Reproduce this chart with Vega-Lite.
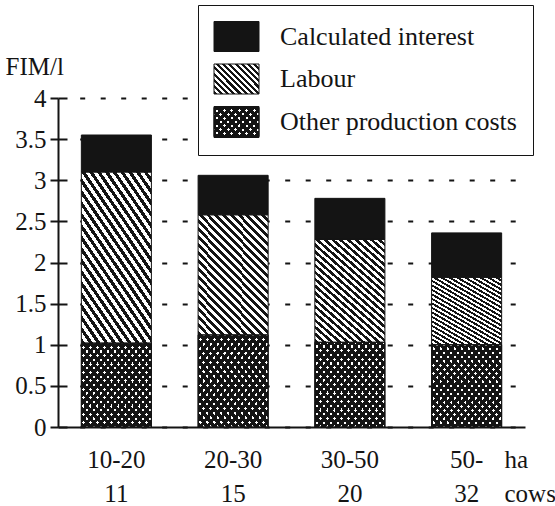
{
"$schema": "https://vega.github.io/schema/vega-lite/v6.json",
"width": 467,
"height": 329,
"autosize": "none",
"padding": {"left": 58, "top": 98, "right": 30, "bottom": 79},
"background": "white",
"config": {"view": {"stroke": null}, "font": "Liberation Serif, Times New Roman, Times, Nimbus Roman, DejaVu Serif, serif",
 "axis": {"labelFont": "Liberation Serif, Times New Roman, Times, Nimbus Roman, DejaVu Serif, serif", "titleFont": "Liberation Serif, Times New Roman, Times, Nimbus Roman, DejaVu Serif, serif"},
 "legend": {"labelFont": "Liberation Serif, Times New Roman, Times, Nimbus Roman, DejaVu Serif, serif", "titleFont": "Liberation Serif, Times New Roman, Times, Nimbus Roman, DejaVu Serif, serif"}},
"params": [
{"name": "gLabBar", "value": {"gradient": "linear", "x1": 0, "y1": 1, "x2": 0.706, "y2": -0.176, "stops": [
 {"offset": 0, "color": "#141414"}, {"offset": 0.0208, "color": "#141414"}, {"offset": 0.0208, "color": "#fff"}, {"offset": 0.0417, "color": "#fff"},
 {"offset": 0.0417, "color": "#141414"}, {"offset": 0.0625, "color": "#141414"}, {"offset": 0.0625, "color": "#fff"}, {"offset": 0.0833, "color": "#fff"},
 {"offset": 0.0833, "color": "#141414"}, {"offset": 0.1042, "color": "#141414"}, {"offset": 0.1042, "color": "#fff"}, {"offset": 0.125, "color": "#fff"},
 {"offset": 0.125, "color": "#141414"}, {"offset": 0.1458, "color": "#141414"}, {"offset": 0.1458, "color": "#fff"}, {"offset": 0.1667, "color": "#fff"},
 {"offset": 0.1667, "color": "#141414"}, {"offset": 0.1875, "color": "#141414"}, {"offset": 0.1875, "color": "#fff"}, {"offset": 0.2083, "color": "#fff"},
 {"offset": 0.2083, "color": "#141414"}, {"offset": 0.2292, "color": "#141414"}, {"offset": 0.2292, "color": "#fff"}, {"offset": 0.25, "color": "#fff"},
 {"offset": 0.25, "color": "#141414"}, {"offset": 0.2708, "color": "#141414"}, {"offset": 0.2708, "color": "#fff"}, {"offset": 0.2917, "color": "#fff"},
 {"offset": 0.2917, "color": "#141414"}, {"offset": 0.3125, "color": "#141414"}, {"offset": 0.3125, "color": "#fff"}, {"offset": 0.3333, "color": "#fff"},
 {"offset": 0.3333, "color": "#141414"}, {"offset": 0.3542, "color": "#141414"}, {"offset": 0.3542, "color": "#fff"}, {"offset": 0.375, "color": "#fff"},
 {"offset": 0.375, "color": "#141414"}, {"offset": 0.3958, "color": "#141414"}, {"offset": 0.3958, "color": "#fff"}, {"offset": 0.4167, "color": "#fff"},
 {"offset": 0.4167, "color": "#141414"}, {"offset": 0.4375, "color": "#141414"}, {"offset": 0.4375, "color": "#fff"}, {"offset": 0.4583, "color": "#fff"},
 {"offset": 0.4583, "color": "#141414"}, {"offset": 0.4792, "color": "#141414"}, {"offset": 0.4792, "color": "#fff"}, {"offset": 0.5, "color": "#fff"},
 {"offset": 0.5, "color": "#141414"}, {"offset": 0.5208, "color": "#141414"}, {"offset": 0.5208, "color": "#fff"}, {"offset": 0.5417, "color": "#fff"},
 {"offset": 0.5417, "color": "#141414"}, {"offset": 0.5625, "color": "#141414"}, {"offset": 0.5625, "color": "#fff"}, {"offset": 0.5833, "color": "#fff"},
 {"offset": 0.5833, "color": "#141414"}, {"offset": 0.6042, "color": "#141414"}, {"offset": 0.6042, "color": "#fff"}, {"offset": 0.625, "color": "#fff"},
 {"offset": 0.625, "color": "#141414"}, {"offset": 0.6458, "color": "#141414"}, {"offset": 0.6458, "color": "#fff"}, {"offset": 0.6667, "color": "#fff"},
 {"offset": 0.6667, "color": "#141414"}, {"offset": 0.6875, "color": "#141414"}, {"offset": 0.6875, "color": "#fff"}, {"offset": 0.7083, "color": "#fff"},
 {"offset": 0.7083, "color": "#141414"}, {"offset": 0.7292, "color": "#141414"}, {"offset": 0.7292, "color": "#fff"}, {"offset": 0.75, "color": "#fff"},
 {"offset": 0.75, "color": "#141414"}, {"offset": 0.7708, "color": "#141414"}, {"offset": 0.7708, "color": "#fff"}, {"offset": 0.7917, "color": "#fff"},
 {"offset": 0.7917, "color": "#141414"}, {"offset": 0.8125, "color": "#141414"}, {"offset": 0.8125, "color": "#fff"}, {"offset": 0.8333, "color": "#fff"},
 {"offset": 0.8333, "color": "#141414"}, {"offset": 0.8542, "color": "#141414"}, {"offset": 0.8542, "color": "#fff"}, {"offset": 0.875, "color": "#fff"},
 {"offset": 0.875, "color": "#141414"}, {"offset": 0.8958, "color": "#141414"}, {"offset": 0.8958, "color": "#fff"}, {"offset": 0.9167, "color": "#fff"},
 {"offset": 0.9167, "color": "#141414"}, {"offset": 0.9375, "color": "#141414"}, {"offset": 0.9375, "color": "#fff"}, {"offset": 0.9583, "color": "#fff"},
 {"offset": 0.9583, "color": "#141414"}, {"offset": 0.9792, "color": "#141414"}, {"offset": 0.9792, "color": "#fff"}, {"offset": 1, "color": "#fff"}
]}},
{"name": "gOthBar", "value": {"gradient": "linear", "x1": 0, "y1": 1, "x2": 1, "y2": 0, "stops": [
 {"offset": 0, "color": "#141414"}, {"offset": 0.03, "color": "#141414"}, {"offset": 0.03, "color": "#fff"}, {"offset": 0.05, "color": "#fff"},
 {"offset": 0.05, "color": "#141414"}, {"offset": 0.08, "color": "#141414"}, {"offset": 0.08, "color": "#fff"}, {"offset": 0.10, "color": "#fff"},
 {"offset": 0.10, "color": "#141414"}, {"offset": 0.13, "color": "#141414"}, {"offset": 0.13, "color": "#fff"}, {"offset": 0.15, "color": "#fff"},
 {"offset": 0.15, "color": "#141414"}, {"offset": 0.18, "color": "#141414"}, {"offset": 0.18, "color": "#fff"}, {"offset": 0.20, "color": "#fff"},
 {"offset": 0.20, "color": "#141414"}, {"offset": 0.23, "color": "#141414"}, {"offset": 0.23, "color": "#fff"}, {"offset": 0.25, "color": "#fff"},
 {"offset": 0.25, "color": "#141414"}, {"offset": 0.28, "color": "#141414"}, {"offset": 0.28, "color": "#fff"}, {"offset": 0.30, "color": "#fff"},
 {"offset": 0.30, "color": "#141414"}, {"offset": 0.33, "color": "#141414"}, {"offset": 0.33, "color": "#fff"}, {"offset": 0.35, "color": "#fff"},
 {"offset": 0.35, "color": "#141414"}, {"offset": 0.38, "color": "#141414"}, {"offset": 0.38, "color": "#fff"}, {"offset": 0.40, "color": "#fff"},
 {"offset": 0.40, "color": "#141414"}, {"offset": 0.43, "color": "#141414"}, {"offset": 0.43, "color": "#fff"}, {"offset": 0.45, "color": "#fff"},
 {"offset": 0.45, "color": "#141414"}, {"offset": 0.48, "color": "#141414"}, {"offset": 0.48, "color": "#fff"}, {"offset": 0.50, "color": "#fff"},
 {"offset": 0.50, "color": "#141414"}, {"offset": 0.53, "color": "#141414"}, {"offset": 0.53, "color": "#fff"}, {"offset": 0.55, "color": "#fff"},
 {"offset": 0.55, "color": "#141414"}, {"offset": 0.58, "color": "#141414"}, {"offset": 0.58, "color": "#fff"}, {"offset": 0.60, "color": "#fff"},
 {"offset": 0.60, "color": "#141414"}, {"offset": 0.63, "color": "#141414"}, {"offset": 0.63, "color": "#fff"}, {"offset": 0.65, "color": "#fff"},
 {"offset": 0.65, "color": "#141414"}, {"offset": 0.68, "color": "#141414"}, {"offset": 0.68, "color": "#fff"}, {"offset": 0.70, "color": "#fff"},
 {"offset": 0.70, "color": "#141414"}, {"offset": 0.73, "color": "#141414"}, {"offset": 0.73, "color": "#fff"}, {"offset": 0.75, "color": "#fff"},
 {"offset": 0.75, "color": "#141414"}, {"offset": 0.78, "color": "#141414"}, {"offset": 0.78, "color": "#fff"}, {"offset": 0.80, "color": "#fff"},
 {"offset": 0.80, "color": "#141414"}, {"offset": 0.83, "color": "#141414"}, {"offset": 0.83, "color": "#fff"}, {"offset": 0.85, "color": "#fff"},
 {"offset": 0.85, "color": "#141414"}, {"offset": 0.88, "color": "#141414"}, {"offset": 0.88, "color": "#fff"}, {"offset": 0.90, "color": "#fff"},
 {"offset": 0.90, "color": "#141414"}, {"offset": 0.93, "color": "#141414"}, {"offset": 0.93, "color": "#fff"}, {"offset": 0.95, "color": "#fff"},
 {"offset": 0.95, "color": "#141414"}, {"offset": 0.98, "color": "#141414"}, {"offset": 0.98, "color": "#fff"}, {"offset": 1, "color": "#fff"}
]}},
{"name": "gOthBar2", "value": {"gradient": "linear", "x1": 0, "y1": 0, "x2": 1, "y2": 1, "stops": [
 {"offset": 0, "color": "#141414"}, {"offset": 0.03, "color": "#141414"}, {"offset": 0.03, "color": "rgba(0,0,0,0)"}, {"offset": 0.05, "color": "rgba(0,0,0,0)"},
 {"offset": 0.05, "color": "#141414"}, {"offset": 0.08, "color": "#141414"}, {"offset": 0.08, "color": "rgba(0,0,0,0)"}, {"offset": 0.10, "color": "rgba(0,0,0,0)"},
 {"offset": 0.10, "color": "#141414"}, {"offset": 0.13, "color": "#141414"}, {"offset": 0.13, "color": "rgba(0,0,0,0)"}, {"offset": 0.15, "color": "rgba(0,0,0,0)"},
 {"offset": 0.15, "color": "#141414"}, {"offset": 0.18, "color": "#141414"}, {"offset": 0.18, "color": "rgba(0,0,0,0)"}, {"offset": 0.20, "color": "rgba(0,0,0,0)"},
 {"offset": 0.20, "color": "#141414"}, {"offset": 0.23, "color": "#141414"}, {"offset": 0.23, "color": "rgba(0,0,0,0)"}, {"offset": 0.25, "color": "rgba(0,0,0,0)"},
 {"offset": 0.25, "color": "#141414"}, {"offset": 0.28, "color": "#141414"}, {"offset": 0.28, "color": "rgba(0,0,0,0)"}, {"offset": 0.30, "color": "rgba(0,0,0,0)"},
 {"offset": 0.30, "color": "#141414"}, {"offset": 0.33, "color": "#141414"}, {"offset": 0.33, "color": "rgba(0,0,0,0)"}, {"offset": 0.35, "color": "rgba(0,0,0,0)"},
 {"offset": 0.35, "color": "#141414"}, {"offset": 0.38, "color": "#141414"}, {"offset": 0.38, "color": "rgba(0,0,0,0)"}, {"offset": 0.40, "color": "rgba(0,0,0,0)"},
 {"offset": 0.40, "color": "#141414"}, {"offset": 0.43, "color": "#141414"}, {"offset": 0.43, "color": "rgba(0,0,0,0)"}, {"offset": 0.45, "color": "rgba(0,0,0,0)"},
 {"offset": 0.45, "color": "#141414"}, {"offset": 0.48, "color": "#141414"}, {"offset": 0.48, "color": "rgba(0,0,0,0)"}, {"offset": 0.50, "color": "rgba(0,0,0,0)"},
 {"offset": 0.50, "color": "#141414"}, {"offset": 0.53, "color": "#141414"}, {"offset": 0.53, "color": "rgba(0,0,0,0)"}, {"offset": 0.55, "color": "rgba(0,0,0,0)"},
 {"offset": 0.55, "color": "#141414"}, {"offset": 0.58, "color": "#141414"}, {"offset": 0.58, "color": "rgba(0,0,0,0)"}, {"offset": 0.60, "color": "rgba(0,0,0,0)"},
 {"offset": 0.60, "color": "#141414"}, {"offset": 0.63, "color": "#141414"}, {"offset": 0.63, "color": "rgba(0,0,0,0)"}, {"offset": 0.65, "color": "rgba(0,0,0,0)"},
 {"offset": 0.65, "color": "#141414"}, {"offset": 0.68, "color": "#141414"}, {"offset": 0.68, "color": "rgba(0,0,0,0)"}, {"offset": 0.70, "color": "rgba(0,0,0,0)"},
 {"offset": 0.70, "color": "#141414"}, {"offset": 0.73, "color": "#141414"}, {"offset": 0.73, "color": "rgba(0,0,0,0)"}, {"offset": 0.75, "color": "rgba(0,0,0,0)"},
 {"offset": 0.75, "color": "#141414"}, {"offset": 0.78, "color": "#141414"}, {"offset": 0.78, "color": "rgba(0,0,0,0)"}, {"offset": 0.80, "color": "rgba(0,0,0,0)"},
 {"offset": 0.80, "color": "#141414"}, {"offset": 0.83, "color": "#141414"}, {"offset": 0.83, "color": "rgba(0,0,0,0)"}, {"offset": 0.85, "color": "rgba(0,0,0,0)"},
 {"offset": 0.85, "color": "#141414"}, {"offset": 0.88, "color": "#141414"}, {"offset": 0.88, "color": "rgba(0,0,0,0)"}, {"offset": 0.90, "color": "rgba(0,0,0,0)"},
 {"offset": 0.90, "color": "#141414"}, {"offset": 0.93, "color": "#141414"}, {"offset": 0.93, "color": "rgba(0,0,0,0)"}, {"offset": 0.95, "color": "rgba(0,0,0,0)"},
 {"offset": 0.95, "color": "#141414"}, {"offset": 0.98, "color": "#141414"}, {"offset": 0.98, "color": "rgba(0,0,0,0)"}, {"offset": 1, "color": "rgba(0,0,0,0)"}
]}},
{"name": "gLabLeg", "value": {"gradient": "linear", "x1": 0, "y1": 1, "x2": 1.154, "y2": 0.231, "stops": [
 {"offset": 0, "color": "#141414"}, {"offset": 0.0417, "color": "#141414"}, {"offset": 0.0417, "color": "#fff"}, {"offset": 0.0833, "color": "#fff"},
 {"offset": 0.0833, "color": "#141414"}, {"offset": 0.125, "color": "#141414"}, {"offset": 0.125, "color": "#fff"}, {"offset": 0.1667, "color": "#fff"},
 {"offset": 0.1667, "color": "#141414"}, {"offset": 0.2083, "color": "#141414"}, {"offset": 0.2083, "color": "#fff"}, {"offset": 0.25, "color": "#fff"},
 {"offset": 0.25, "color": "#141414"}, {"offset": 0.2917, "color": "#141414"}, {"offset": 0.2917, "color": "#fff"}, {"offset": 0.3333, "color": "#fff"},
 {"offset": 0.3333, "color": "#141414"}, {"offset": 0.375, "color": "#141414"}, {"offset": 0.375, "color": "#fff"}, {"offset": 0.4167, "color": "#fff"},
 {"offset": 0.4167, "color": "#141414"}, {"offset": 0.4583, "color": "#141414"}, {"offset": 0.4583, "color": "#fff"}, {"offset": 0.5, "color": "#fff"},
 {"offset": 0.5, "color": "#141414"}, {"offset": 0.5417, "color": "#141414"}, {"offset": 0.5417, "color": "#fff"}, {"offset": 0.5833, "color": "#fff"},
 {"offset": 0.5833, "color": "#141414"}, {"offset": 0.625, "color": "#141414"}, {"offset": 0.625, "color": "#fff"}, {"offset": 0.6667, "color": "#fff"},
 {"offset": 0.6667, "color": "#141414"}, {"offset": 0.7083, "color": "#141414"}, {"offset": 0.7083, "color": "#fff"}, {"offset": 0.75, "color": "#fff"},
 {"offset": 0.75, "color": "#141414"}, {"offset": 0.7917, "color": "#141414"}, {"offset": 0.7917, "color": "#fff"}, {"offset": 0.8333, "color": "#fff"},
 {"offset": 0.8333, "color": "#141414"}, {"offset": 0.875, "color": "#141414"}, {"offset": 0.875, "color": "#fff"}, {"offset": 0.9167, "color": "#fff"},
 {"offset": 0.9167, "color": "#141414"}, {"offset": 0.9583, "color": "#141414"}, {"offset": 0.9583, "color": "#fff"}, {"offset": 1, "color": "#fff"}
]}},
{"name": "gOthLeg", "value": {"gradient": "linear", "x1": 0, "y1": 1, "x2": 1.154, "y2": 0.231, "stops": [
 {"offset": 0, "color": "#141414"}, {"offset": 0.06, "color": "#141414"}, {"offset": 0.06, "color": "#fff"}, {"offset": 0.1, "color": "#fff"},
 {"offset": 0.1, "color": "#141414"}, {"offset": 0.16, "color": "#141414"}, {"offset": 0.16, "color": "#fff"}, {"offset": 0.2, "color": "#fff"},
 {"offset": 0.2, "color": "#141414"}, {"offset": 0.26, "color": "#141414"}, {"offset": 0.26, "color": "#fff"}, {"offset": 0.3, "color": "#fff"},
 {"offset": 0.3, "color": "#141414"}, {"offset": 0.36, "color": "#141414"}, {"offset": 0.36, "color": "#fff"}, {"offset": 0.4, "color": "#fff"},
 {"offset": 0.4, "color": "#141414"}, {"offset": 0.46, "color": "#141414"}, {"offset": 0.46, "color": "#fff"}, {"offset": 0.5, "color": "#fff"},
 {"offset": 0.5, "color": "#141414"}, {"offset": 0.56, "color": "#141414"}, {"offset": 0.56, "color": "#fff"}, {"offset": 0.6, "color": "#fff"},
 {"offset": 0.6, "color": "#141414"}, {"offset": 0.66, "color": "#141414"}, {"offset": 0.66, "color": "#fff"}, {"offset": 0.7, "color": "#fff"},
 {"offset": 0.7, "color": "#141414"}, {"offset": 0.76, "color": "#141414"}, {"offset": 0.76, "color": "#fff"}, {"offset": 0.8, "color": "#fff"},
 {"offset": 0.8, "color": "#141414"}, {"offset": 0.86, "color": "#141414"}, {"offset": 0.86, "color": "#fff"}, {"offset": 0.9, "color": "#fff"},
 {"offset": 0.9, "color": "#141414"}, {"offset": 0.96, "color": "#141414"}, {"offset": 0.96, "color": "#fff"}, {"offset": 1, "color": "#fff"}
]}},
{"name": "gOthLeg2", "value": {"gradient": "linear", "x1": 0, "y1": 0, "x2": 1.154, "y2": 0.769, "stops": [
 {"offset": 0, "color": "#141414"}, {"offset": 0.06, "color": "#141414"}, {"offset": 0.06, "color": "rgba(0,0,0,0)"}, {"offset": 0.1, "color": "rgba(0,0,0,0)"},
 {"offset": 0.1, "color": "#141414"}, {"offset": 0.16, "color": "#141414"}, {"offset": 0.16, "color": "rgba(0,0,0,0)"}, {"offset": 0.2, "color": "rgba(0,0,0,0)"},
 {"offset": 0.2, "color": "#141414"}, {"offset": 0.26, "color": "#141414"}, {"offset": 0.26, "color": "rgba(0,0,0,0)"}, {"offset": 0.3, "color": "rgba(0,0,0,0)"},
 {"offset": 0.3, "color": "#141414"}, {"offset": 0.36, "color": "#141414"}, {"offset": 0.36, "color": "rgba(0,0,0,0)"}, {"offset": 0.4, "color": "rgba(0,0,0,0)"},
 {"offset": 0.4, "color": "#141414"}, {"offset": 0.46, "color": "#141414"}, {"offset": 0.46, "color": "rgba(0,0,0,0)"}, {"offset": 0.5, "color": "rgba(0,0,0,0)"},
 {"offset": 0.5, "color": "#141414"}, {"offset": 0.56, "color": "#141414"}, {"offset": 0.56, "color": "rgba(0,0,0,0)"}, {"offset": 0.6, "color": "rgba(0,0,0,0)"},
 {"offset": 0.6, "color": "#141414"}, {"offset": 0.66, "color": "#141414"}, {"offset": 0.66, "color": "rgba(0,0,0,0)"}, {"offset": 0.7, "color": "rgba(0,0,0,0)"},
 {"offset": 0.7, "color": "#141414"}, {"offset": 0.76, "color": "#141414"}, {"offset": 0.76, "color": "rgba(0,0,0,0)"}, {"offset": 0.8, "color": "rgba(0,0,0,0)"},
 {"offset": 0.8, "color": "#141414"}, {"offset": 0.86, "color": "#141414"}, {"offset": 0.86, "color": "rgba(0,0,0,0)"}, {"offset": 0.9, "color": "rgba(0,0,0,0)"},
 {"offset": 0.9, "color": "#141414"}, {"offset": 0.96, "color": "#141414"}, {"offset": 0.96, "color": "rgba(0,0,0,0)"}, {"offset": 1, "color": "rgba(0,0,0,0)"}
]}}
],
"data": {"values": [
{"size": "10-20|11", "cost": "Other production costs", "value": 1.02},
{"size": "10-20|11", "cost": "Labour", "value": 2.08},
{"size": "10-20|11", "cost": "Calculated interest", "value": 0.45},
{"size": "20-30|15", "cost": "Other production costs", "value": 1.12},
{"size": "20-30|15", "cost": "Labour", "value": 1.46},
{"size": "20-30|15", "cost": "Calculated interest", "value": 0.48},
{"size": "30-50|20", "cost": "Other production costs", "value": 1.03},
{"size": "30-50|20", "cost": "Labour", "value": 1.25},
{"size": "30-50|20", "cost": "Calculated interest", "value": 0.50},
{"size": "50-|32", "cost": "Other production costs", "value": 1.00},
{"size": "50-|32", "cost": "Labour", "value": 0.82},
{"size": "50-|32", "cost": "Calculated interest", "value": 0.54}
]},
"encoding": {
"x": {"field": "size", "type": "nominal", "sort": null,
 "scale": {"paddingInner": 0.4, "paddingOuter": 0.2, "align": 0.5},
 "axis": {"title": ["ha", "cows"], "titleFontSize": 25, "titleFontWeight": "normal", "titleLineHeight": 34, "titleAlign": "left", "titleBaseline": "alphabetic", "titleX": 446, "titleY": 40, "titleColor": "#141414",
  "labelExpr": "split(datum.label, '|')", "labelAngle": 0, "labelFontSize": 25, "labelLineHeight": 34, "labelBaseline": "alphabetic", "labelPadding": 40, "labelColor": "#141414",
  "ticks": false, "tickSize": 0, "domainColor": "#141414", "domainWidth": 2, "grid": false}},
"y": {"field": "value", "type": "quantitative",
 "scale": {"domain": [0, 4], "nice": false},
 "axis": {"values": [0, 0.5, 1, 1.5, 2, 2.5, 3, 3.5, 4], "format": "~g",
  "title": "FIM/l", "titleAngle": 0, "titleAlign": "left", "titleBaseline": "alphabetic", "titleX": -53, "titleY": -24, "titleFontSize": 25, "titleFontWeight": "normal", "titleColor": "#141414",
  "labelFontSize": 25, "labelColor": "#141414", "labelPadding": 4,
  "tickSize": 8, "tickWidth": 2, "tickColor": "#141414",
  "domainColor": "#141414", "domainWidth": 2,
  "grid": true, "gridColor": "#141414", "gridWidth": 2,
  "gridDash": [9, 12.7, 5, 15.5, 5, 15.5, 5, 15.5, 5, 15.5, 5, 15.5, 5, 15.5, 5, 15.5, 5, 15.5, 5, 15.5, 5, 15.5, 5, 15.5, 5, 15.5, 5, 15.5, 5, 15.5, 5, 15.5, 5, 15.5, 5, 15.5, 5, 15.5, 5, 15.5, 5, 15.5, 5, 15.5, 5, 15.5]}}
},
"layer": [
{"mark": {"type": "bar", "stroke": "#141414", "strokeWidth": 1},
 "encoding": {
  "order": {"field": "cost", "sort": "descending"},
  "color": {"field": "cost", "type": "nominal", "legend": null,
   "scale": {"domain": ["Calculated interest", "Labour", "Other production costs"],
    "range": ["#141414", {"expr": "gLabBar"}, {"expr": "gOthBar"}]}}
 }
},
{"transform": [{"filter": "datum.cost === 'Other production costs'"}],
 "mark": {"type": "bar", "stroke": "#141414", "strokeWidth": 1},
 "encoding": {
  "fill": {"field": "cost", "type": "nominal", "legend": null,
   "scale": {"domain": ["Other production costs"], "range": [{"expr": "gOthBar2"}]}}
 }
},
{"mark": {"type": "point", "filled": true, "size": 0, "opacity": 1},
 "encoding": {
  "y": {"field": "value", "type": "quantitative", "stack": null},
  "color": {"field": "cost", "type": "nominal",
   "scale": {"domain": ["Calculated interest", "Labour", "Other production costs"],
    "range": ["#141414", {"expr": "gLabLeg"}, {"expr": "gOthLeg"}]},
   "legend": {"title": null, "orient": "none", "legendX": 140, "legendY": -93, "padding": 16,
    "fillColor": "white", "strokeColor": "#141414",
    "symbolType": "M-1.5,-1H1.5V1H-1.5Z", "symbolSize": 900, "symbolOffset": 7, "symbolOpacity": 1, "symbolStrokeColor": "#141414", "symbolStrokeWidth": 1,
    "labelFontSize": 26, "labelColor": "#141414", "labelOffset": 28, "labelLimit": 400, "rowPadding": 7.5}
  }
 }
},
{"transform": [{"filter": "datum.cost === 'Other production costs'"}],
 "mark": {"type": "point", "filled": true, "size": 0, "opacity": 1},
 "encoding": {
  "y": {"field": "value", "type": "quantitative", "stack": null},
  "fill": {"field": "cost", "type": "nominal",
   "scale": {"domain": ["Other production costs"], "range": [{"expr": "gOthLeg2"}]},
   "legend": {"title": null, "orient": "none", "legendX": 140, "legendY": -7, "padding": 16, "zindex": 1,
    "symbolType": "M-1.5,-1H1.5V1H-1.5Z", "symbolSize": 900, "symbolOffset": 7, "symbolOpacity": 1, "symbolStrokeColor": "#141414", "symbolStrokeWidth": 1,
    "labelFontSize": 26, "labelExpr": "''", "labelOffset": 28, "labelLimit": 400}
  }
 }
}
],
"resolve": {"scale": {"color": "independent", "fill": "independent"}}
}
